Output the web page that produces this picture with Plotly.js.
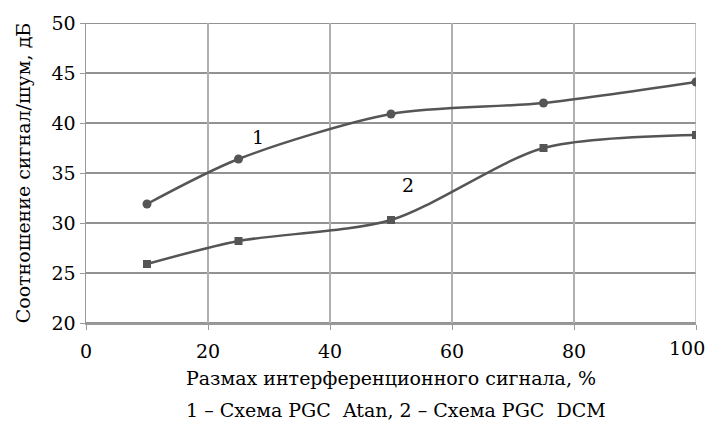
<!DOCTYPE html>
<html>
<head>
<meta charset="utf-8">
<script src="https://cdn.plot.ly/plotly-3.0.1.min.js"></script>
<style>html,body{margin:0;padding:0;background:#fff;}#chart{width:708px;height:423px;}</style>
</head>
<body>
<div id="chart"></div>
<script>
const xValues = [10, 25, 50, 75, 100];
const seriesAtan = [31.9, 36.4, 40.9, 42.0, 44.1];
const seriesDCM = [25.9, 28.2, 30.3, 37.5, 38.8];
const xTicks = [0, 20, 40, 60, 80, 100];
const yTicks = [20, 25, 30, 35, 40, 45, 50];
const curveLabels = ["1", "2"];
const curveLabelX = [28.2, 52.8];
const curveLabelY = [38.6, 33.8];

const font = "'DejaVu Serif', serif";
const fs = 19;
const lineColor = "#555555";

const traces = [
  {x: xValues, y: seriesAtan, mode: "lines+markers", type: "scatter",
   line: {color: lineColor, width: 2.5, shape: "spline", smoothing: 0.8},
   marker: {symbol: "circle", size: 9, color: lineColor}},
  {x: xValues, y: seriesDCM, mode: "lines+markers", type: "scatter",
   line: {color: lineColor, width: 2.5, shape: "spline", smoothing: 0.8},
   marker: {symbol: "square", size: 8, color: lineColor}}
];

const hLines = yTicks.map(v => ({type: "line", xref: "paper", x0: 0, x1: 1, yref: "y", y0: v, y1: v,
  line: {color: "#6e6e6e", width: 1.5}, layer: "below"}));

const lastTick = xTicks[xTicks.length - 1];
const xTickText = xTicks.map(v => v === lastTick ? " " : String(v));

const layout = {
  width: 708, height: 423,
  margin: {l: 86, r: 12, t: 23, b: 100},
  paper_bgcolor: "#fff", plot_bgcolor: "#fff",
  showlegend: false,
  font: {family: font, size: fs, color: "#000"},
  xaxis: {range: [0, 100], tickvals: xTicks, ticktext: xTickText,
    showgrid: true, gridcolor: "#b0b0b0", gridwidth: 1.5, zeroline: false,
    showline: true, linecolor: "#999", linewidth: 1.5, mirror: false,
    ticks: "outside", ticklen: 5, tickcolor: "#999", ticklabelstandoff: 6,
    tickfont: {family: font, size: fs},
    title: {text: "Размах интерференционного сигнала, %", font: {family: font, size: fs}, standoff: 10}},
  yaxis: {range: [20, 50], tickvals: yTicks, ticktext: yTicks.map(String),
    showgrid: false, zeroline: false,
    showline: true, linecolor: "#999", linewidth: 1.5,
    ticks: "outside", ticklen: 5, tickcolor: "#999",
    tickfont: {family: font, size: fs},
    title: {text: "Соотношение сигнал/шум, дБ", font: {family: font, size: fs}, standoff: 16}},
  shapes: hLines.concat([{type: "line", xref: "x", x0: 100, x1: 100, yref: "paper", y0: 0, y1: 1,
    line: {color: "#b0b0b0", width: 1.5}, layer: "below"}]),
  annotations: [
    {text: curveLabels[0], x: curveLabelX[0], y: curveLabelY[0], xref: "x", yref: "y", showarrow: false, font: {family: font, size: fs}},
    {text: curveLabels[1], x: curveLabelX[1], y: curveLabelY[1], xref: "x", yref: "y", showarrow: false, font: {family: font, size: fs}},
    {text: String(lastTick), x: lastTick, xref: "x", y: 0, yref: "paper", xanchor: "right", yanchor: "top",
     xshift: 11, yshift: -12, showarrow: false, font: {family: font, size: fs}},
    {text: "1 – Схема PGC&nbsp;&nbsp;Atan, 2 – Схема PGC&nbsp;&nbsp;DCM", xref: "paper", yref: "paper",
     x: 0.508, y: -0.29, yanchor: "middle", showarrow: false, font: {family: font, size: fs}}
  ]
};

Plotly.newPlot("chart", traces, layout, {displayModeBar: false, staticPlot: true});
</script>
</body>
</html>
